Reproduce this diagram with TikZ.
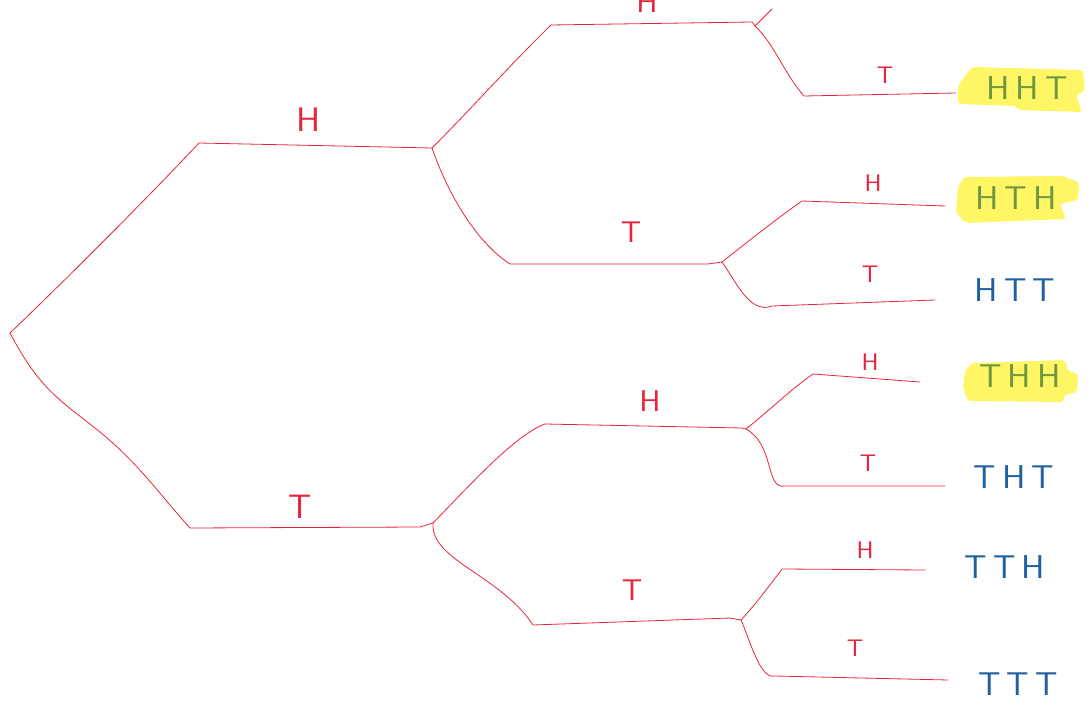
\documentclass[tikz,border=0pt]{standalone}
\usepackage{fontspec}
\newfontfamily\hand{lmsans10-regular}[Extension=.otf, LetterSpace=18]
\newfontfamily\handl{lmsans10-regular}[Extension=.otf]
\definecolor{inkred}{RGB}{232,36,60}
\definecolor{inkblue}{RGB}{32,96,160}
\definecolor{inkgreen}{RGB}{112,150,64}
\definecolor{hilite}{RGB}{255,246,102}
\begin{document}
\begin{tikzpicture}[x=1pt,y=-1pt,
  branch/.style={draw=inkred, line width=0.8pt, line join=round, line cap=round},
  lblA/.style={text=inkred, inner sep=0pt, font=\handl\fontsize{34}{34}\selectfont},
  lblB/.style={text=inkred, inner sep=0pt, font=\handl\fontsize{30}{30}\selectfont},
  lblC/.style={text=inkred, inner sep=0pt, font=\handl\fontsize{24}{24}\selectfont},
  leaf/.style={text=inkblue, inner sep=0pt, font=\hand\fontsize{33}{33}\selectfont},
  hleaf/.style={leaf, text=inkgreen}
]
\useasboundingbox (0,0) rectangle (1090,703);

% highlights
\fill[hilite, rounded corners=3pt] (958,86) -- (972,67) -- (1083,70) -- (1085,91) -- (1076,95) -- (1082,112) -- (1018,110) -- (1016,106) -- (958,104) -- cycle;
\fill[hilite, rounded corners=3pt] (958,186) -- (965,177) -- (1062,176) -- (1079,182) -- (1078,200) -- (1060,204) -- (1066,219) -- (966,223) -- (956,213) -- cycle;
\fill[hilite, rounded corners=3pt] (965,371) -- (972,363) -- (1065,360) -- (1068,371) -- (1078,374) -- (1077,392) -- (1064,395) -- (1064,402) -- (968,401) -- (963,388) -- cycle;

% coordinates
\coordinate (root) at (10,333);
\coordinate (Hs) at (199,143);
\coordinate (A) at (432,148);
\coordinate (Ts) at (190,528);
\coordinate (C) at (433,523);
\coordinate (HHs) at (551,25);
\coordinate (AA) at (755,26);
\coordinate (HHHup) at (772,9);
\coordinate (HHTs) at (804,96);
\coordinate (HHTe) at (956,93);
\coordinate (HTs) at (510,264);
\coordinate (B) at (722,262);
\coordinate (HTHs) at (802,201);
\coordinate (HTHe) at (945,206);
\coordinate (HTTs) at (772,306);
\coordinate (HTTe) at (935,300);
\coordinate (THs) at (545,424);
\coordinate (D) at (746,429);
\coordinate (THHs) at (813,374);
\coordinate (THHe) at (920,382);
\coordinate (THTs) at (785,486);
\coordinate (THTe) at (945,486);
\coordinate (TTs) at (533,625);
\coordinate (E) at (741,620);
\coordinate (TTHs) at (782,569);
\coordinate (TTHe) at (925,570);
\coordinate (TTTs) at (775,676);
\coordinate (TTTe) at (948,680);

% first toss
\draw[branch] (root) .. controls (80,266) and (150,195) .. (Hs) -- (A);
\draw[branch] (root) .. controls (40,390) and (60,400) .. (100,432) .. controls (140,465) and (160,495) .. (Ts) -- (420,527) -- (C);

% second toss, from A
\draw[branch] (A) .. controls (470,110) and (510,65) .. (HHs) -- (752,22) -- (AA);
\draw[branch] (A) .. controls (450,200) and (480,245) .. (HTs) -- (708,264) -- (B);
% second toss, from C
\draw[branch] (C) .. controls (470,485) and (515,435) .. (THs) -- (742,428) -- (D);
\draw[branch] (C) .. controls (430,560) and (500,575) .. (TTs) -- (730,618) -- (E);

% third toss
\draw[branch] (AA) -- (HHHup);
\draw[branch] (AA) .. controls (775,45) and (785,75) .. (HHTs) -- (HHTe);
\draw[branch] (B) .. controls (750,240) and (775,220) .. (HTHs) -- (HTHe);
\draw[branch] (B) .. controls (735,280) and (750,315) .. (HTTs) -- (HTTe);
\draw[branch] (D) .. controls (770,410) and (790,390) .. (THHs) -- (THHe);
\draw[branch] (D) .. controls (775,445) and (765,490) .. (THTs) -- (THTe);
\draw[branch] (E) .. controls (755,605) and (770,585) .. (TTHs) -- (TTHe);
\draw[branch] (E) .. controls (750,640) and (760,680) .. (TTTs) -- (TTTe);

% edge labels
\node[lblA] (lH) at (309,120) {H};
\node[lblA] (lT) at (300,507) {T};
\node[lblB, anchor=south] (lHH) at (647,13) {H};
\node[lblB] (lHT) at (631,232) {T};
\node[lblB] (lTH) at (650,401) {H};
\node[lblB] (lTT) at (632,590) {T};
\node[lblC] (lHHT) at (885,75) {T};
\node[lblC] (lHTH) at (873,183) {H};
\node[lblC] (lHTT) at (870,274) {T};
\node[lblC] (lTHH) at (870,362) {H};
\node[lblC] (lTHT) at (868,463) {T};
\node[lblC] (lTTH) at (865,550) {H};
\node[lblC] (lTTT) at (855,648) {T};

% outcomes
\node[hleaf] (oHHT) at (1027,88) {HHT};
\node[hleaf] (oHTH) at (1016,198) {HTH};
\node[leaf] (oHTT) at (1015,290) {HTT};
\node[hleaf] (oTHH) at (1020,376) {THH};
\node[leaf] (oTHT) at (1014,477) {THT};
\node[leaf] (oTTH) at (1005,567) {TTH};
\node[leaf] (oTTT) at (1018,684) {TTT};
\end{tikzpicture}
\end{document}
